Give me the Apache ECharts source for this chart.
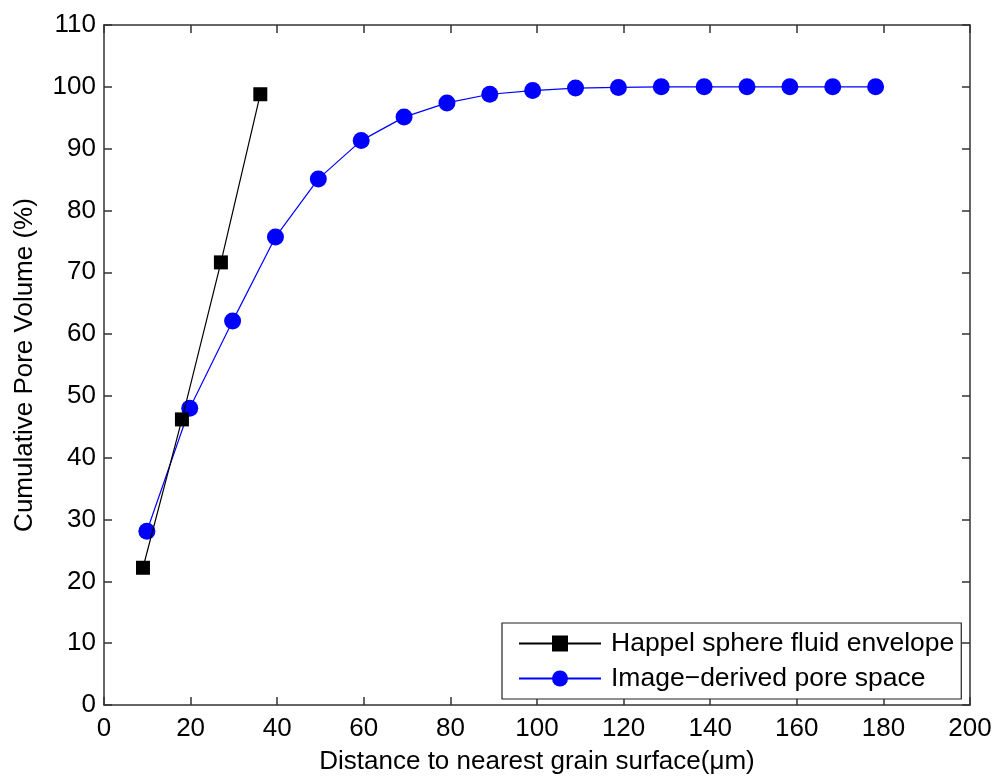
<!DOCTYPE html>
<html>
<head>
<meta charset="utf-8">
<script src="https://cdn.jsdelivr.net/npm/echarts@6/dist/echarts.min.js"></script>
<style>
  html, body { margin: 0; padding: 0; background: #fff; overflow: hidden; }
  #chart { width: 998px; height: 780px; }
</style>
</head>
<body>
<div id="chart"></div>
<script>
// Happel sphere fluid envelope
const happelX = [9.0, 18.0, 27.0, 36.1];
const happelY = [22.2, 46.2, 71.6, 98.8];

// Image-derived pore space
const imageX = [9.9, 19.8, 29.7, 39.6, 49.5, 59.4, 69.3, 79.2, 89.1, 99.0,
                108.9, 118.8, 128.7, 138.6, 148.5, 158.4, 168.3, 178.2];
const imageY = [28.1, 48.0, 62.1, 75.7, 85.1, 91.3, 95.1, 97.4, 98.8, 99.4,
                99.8, 99.9, 100.0, 100.0, 100.0, 100.0, 100.0, 100.0];

const seriesNames = ['Happel sphere fluid envelope', 'Image\u2212derived pore space'];
const xTitle = 'Distance to nearest grain surface(\u03bcm)';
const yTitle = 'Cumulative Pore Volume (%)';

const FONT = '"Liberation Sans", Arial, sans-serif';
const FS = 26;
const AX = '#333';

const pairs = (xs, ys) => xs.map((x, i) => [x, ys[i]]);

const chart = echarts.init(document.getElementById('chart'), null, { renderer: 'canvas' });

const baseAxis = {
  axisLine: { show: true, onZero: false, lineStyle: { color: AX, width: 1.5 } },
  axisTick: { show: true, inside: true, length: 8, lineStyle: { color: AX, width: 1.5 } },
  splitLine: { show: false },
  axisLabel: { fontFamily: FONT, fontSize: FS, color: '#000' }
};

chart.setOption({
  animation: false,
  backgroundColor: '#fff',
  grid: { left: 104, top: 25, width: 866, height: 685 },
  xAxis: [
    Object.assign({}, baseAxis, {
      type: 'value', min: 0, max: 200, interval: 20, position: 'bottom',
      axisLabel: Object.assign({}, baseAxis.axisLabel, { margin: 11 }),
      name: xTitle, nameLocation: 'middle', nameGap: 44,
      nameTextStyle: { fontFamily: FONT, fontSize: FS, color: '#000' }
    }),
    Object.assign({}, baseAxis, {
      type: 'value', min: 0, max: 200, interval: 20, position: 'top',
      axisLabel: { show: false }
    })
  ],
  yAxis: [
    Object.assign({}, baseAxis, {
      type: 'value', min: 0, max: 110, interval: 10, position: 'left',
      axisLabel: Object.assign({}, baseAxis.axisLabel, { margin: 8 }),
      name: yTitle, nameLocation: 'middle', nameGap: 66, nameRotate: 90,
      nameTextStyle: { fontFamily: FONT, fontSize: FS, color: '#000' }
    }),
    Object.assign({}, baseAxis, {
      type: 'value', min: 0, max: 110, interval: 10, position: 'right',
      axisLabel: { show: false }
    })
  ],
  legend: {
    orient: 'vertical',
    left: 502, top: 623,
    itemWidth: 82, itemHeight: 20, itemGap: 8,
    padding: [7, 7, 7, 16],
    borderColor: '#222', borderWidth: 1.2, backgroundColor: '#fff',
    textStyle: { fontFamily: FONT, fontSize: 26.5, color: '#000', padding: [0, 0, 0, 5] },
    data: seriesNames
  },
  series: [
    {
      name: seriesNames[0], type: 'line', data: pairs(happelX, happelY),
      symbol: 'rect', symbolSize: 14,
      lineStyle: { color: '#000', width: 1.2 },
      itemStyle: { color: '#000' },
      z: 3
    },
    {
      name: seriesNames[1], type: 'line', data: pairs(imageX, imageY),
      symbol: 'circle', symbolSize: 17,
      lineStyle: { color: '#0000ff', width: 1.2 },
      itemStyle: { color: '#0000ff' },
      z: 2
    }
  ]
});
</script>
</body>
</html>
